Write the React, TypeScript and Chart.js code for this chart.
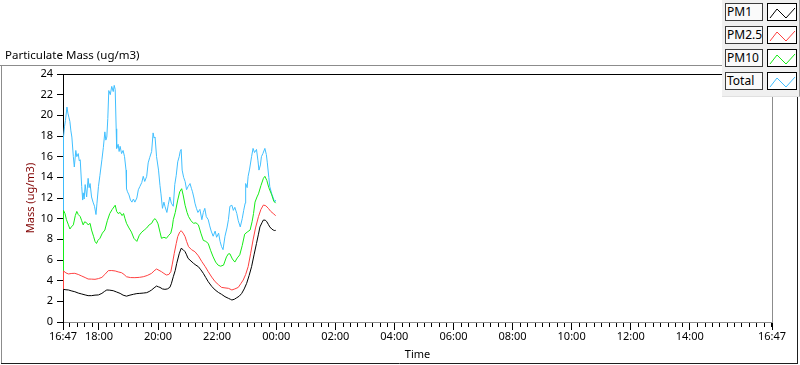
import React, { useEffect, useRef } from "react";
import { Chart, registerables } from "chart.js";

Chart.register(...registerables);

// ---------- data ----------
const chartTitle = "Particulate Mass (ug/m3)";
const xAxisTitle = "Time";
const yAxisTitle = "Mass (ug/m3)";
const startClock = "16:47";
const xTickLabels = ["16:47", "18:00", "20:00", "22:00", "00:00", "02:00", "04:00", "06:00", "08:00", "10:00", "12:00", "14:00", "16:47"];
const yMin = 0;
const yMax = 24;
const yStep = 2;

const seriesNames = ["PM1", "PM2.5", "PM10", "Total"];
const seriesColors = ["#000000", "#ff4040", "#14ec14", "#40bfff"];

// minutes since 16:47
const pm1Min = [0, 1, 6, 11, 18, 24, 31, 38, 45, 51, 58, 65, 72, 79, 84, 89, 95, 102, 109, 116, 122, 129, 136, 143, 150, 156, 163, 170, 175, 180, 185, 190, 194, 197, 202, 207, 212, 217, 220, 224, 228, 231, 236, 240, 244, 248, 251, 254, 260, 265, 270, 275, 280, 285, 290, 295, 302, 309, 316, 322, 329, 336, 340, 343, 348, 353, 358, 363, 368, 373, 378, 383, 388, 393, 397, 400, 404, 407, 411, 414, 417, 420, 424, 427, 430, 432];
const pm1 = [0, 3.16, 3.12, 3.1, 3.0, 2.93, 2.8, 2.71, 2.62, 2.55, 2.55, 2.6, 2.62, 2.77, 2.95, 3.1, 3.08, 3.03, 2.9, 2.77, 2.6, 2.5, 2.6, 2.68, 2.75, 2.77, 2.8, 2.84, 2.95, 3.1, 3.3, 3.48, 3.4, 3.35, 3.2, 3.16, 3.2, 3.35, 3.7, 4.38, 5.0, 5.68, 6.6, 7.13, 7.0, 6.8, 6.5, 6.16, 5.9, 5.68, 5.5, 5.35, 5.05, 4.71, 4.3, 3.9, 3.45, 3.1, 2.85, 2.68, 2.45, 2.29, 2.2, 2.13, 2.2, 2.35, 2.5, 2.77, 3.2, 3.74, 4.5, 5.35, 6.5, 7.6, 8.5, 9.2, 9.6, 9.87, 9.85, 9.7, 9.45, 9.2, 9.0, 8.9, 8.85, 8.87];

const pm25Min = [0, 1, 6, 11, 18, 24, 31, 38, 45, 51, 58, 65, 72, 79, 85, 92, 99, 106, 112, 119, 124, 129, 137, 146, 155, 163, 171, 180, 185, 190, 195, 200, 205, 210, 215, 219, 222, 226, 230, 233, 237, 240, 244, 248, 251, 255, 261, 268, 275, 282, 289, 295, 302, 309, 316, 322, 329, 336, 343, 349, 356, 361, 366, 371, 376, 381, 386, 391, 397, 402, 407, 412, 417, 422, 427, 432];
const pm25 = [0, 4.94, 4.75, 4.65, 4.7, 4.71, 4.6, 4.45, 4.3, 4.16, 4.15, 4.13, 4.2, 4.32, 4.6, 4.97, 4.98, 4.94, 4.85, 4.77, 4.6, 4.38, 4.3, 4.29, 4.32, 4.38, 4.5, 4.71, 4.95, 5.13, 5.0, 4.87, 4.7, 4.55, 4.6, 4.87, 5.6, 6.65, 7.6, 8.26, 8.7, 8.84, 8.6, 8.26, 7.8, 7.29, 7.0, 6.8, 6.4, 5.84, 5.35, 4.87, 4.35, 3.9, 3.6, 3.35, 3.3, 3.26, 3.1, 3.2, 3.35, 3.7, 4.06, 4.6, 5.35, 6.6, 7.94, 9.1, 10.19, 10.9, 11.32, 11.25, 11.0, 10.7, 10.5, 10.29];

const pm10Min = [0, 1, 4, 7, 11, 14, 17, 21, 25, 28, 31, 35, 38, 41, 44, 48, 51, 55, 58, 62, 65, 68, 71, 75, 80, 85, 90, 95, 100, 106, 109, 112, 116, 120, 123, 126, 129, 134, 139, 144, 150, 155, 160, 165, 170, 175, 180, 184, 187, 190, 193, 197, 200, 205, 210, 215, 219, 222, 224, 228, 233, 237, 241, 244, 248, 252, 255, 260, 265, 270, 275, 280, 285, 290, 295, 300, 305, 310, 315, 320, 326, 329, 332, 336, 339, 344, 349, 354, 359, 364, 369, 374, 380, 384, 387, 390, 394, 397, 402, 407, 410, 414, 418, 424, 428, 432];
const pm10 = [0, 10.8, 10.5, 9.9, 9.4, 9.0, 9.2, 9.4, 10.3, 10.7, 10.4, 10.2, 9.8, 9.4, 9.7, 9.6, 9.4, 9.55, 8.9, 8.3, 7.8, 7.6, 7.9, 8.1, 8.6, 8.9, 9.8, 10.5, 10.9, 11.3, 10.7, 10.5, 10.6, 10.3, 10.5, 10.0, 9.55, 9.1, 8.7, 8.1, 7.8, 8.4, 8.7, 8.9, 9.1, 9.4, 9.55, 9.9, 10.0, 9.8, 9.5, 8.7, 8.1, 8.2, 8.1, 8.4, 8.6, 9.2, 9.9, 10.6, 11.8, 12.6, 12.9, 12.3, 11.3, 10.6, 10.2, 9.8, 9.55, 9.6, 9.4, 8.6, 7.9, 7.8, 7.6, 6.9, 6.3, 5.8, 5.5, 5.4, 5.5, 5.9, 6.3, 6.6, 6.6, 6.1, 5.8, 6.2, 6.5, 7.4, 8.5, 8.7, 8.9, 9.7, 10.5, 11.6, 12.1, 12.4, 13.2, 13.9, 14.1, 13.7, 13.0, 12.3, 11.7, 11.5];

const totalMin = [0, 1, 3, 5, 8, 10, 12, 14, 16, 18, 21, 23, 26, 28, 31, 33, 35, 38, 40, 41, 43, 45, 48, 51, 53, 55, 58, 61, 64, 67, 69, 72, 75, 79, 82, 85, 87, 89, 91, 93, 96, 99, 102, 104, 106, 108, 109, 112, 114, 116, 119, 122, 125, 128, 129, 131, 134, 137, 140, 143, 146, 150, 153, 156, 160, 163, 166, 170, 173, 176, 180, 183, 185, 187, 190, 194, 197, 199, 202, 205, 207, 211, 214, 217, 220, 224, 227, 230, 233, 236, 238, 240, 242, 245, 248, 251, 254, 258, 261, 263, 266, 268, 271, 274, 278, 282, 285, 288, 291, 295, 298, 301, 305, 309, 312, 316, 319, 322, 325, 329, 333, 336, 339, 343, 346, 349, 353, 356, 360, 364, 367, 370, 371, 374, 376, 379, 383, 386, 389, 393, 396, 398, 401, 403, 406, 410, 413, 415, 418, 420, 424, 427, 430, 432];
const total = [0, 17.9, 18.9, 19.5, 20.8, 20.2, 19.8, 19.4, 18.5, 17.9, 16.0, 15.0, 16.6, 16.0, 16.3, 15.6, 15.7, 13.1, 11.8, 12.5, 11.9, 13.3, 12.1, 13.9, 13.0, 13.4, 12.1, 11.6, 11.2, 10.4, 11.5, 13.1, 14.2, 15.7, 16.9, 18.4, 17.6, 17.9, 19.7, 22.4, 22.0, 22.8, 22.3, 22.9, 22.5, 18.7, 16.8, 17.2, 16.5, 17.0, 16.3, 16.6, 16.0, 14.7, 12.9, 12.6, 12.3, 11.8, 11.6, 11.9, 11.6, 12.0, 12.8, 13.1, 13.5, 14.1, 13.6, 14.1, 15.4, 15.9, 16.5, 18.3, 17.8, 17.9, 16.0, 14.7, 13.2, 12.4, 11.0, 11.6, 11.2, 10.6, 11.4, 12.1, 11.5, 11.2, 13.3, 14.2, 15.5, 16.0, 16.5, 16.7, 14.7, 14.0, 13.6, 12.8, 13.1, 13.4, 12.9, 12.6, 12.0, 11.5, 11.0, 10.6, 10.9, 9.9, 10.6, 11.0, 10.2, 9.9, 9.3, 8.8, 8.3, 8.8, 8.2, 8.6, 7.8, 7.3, 7.0, 8.3, 9.1, 9.9, 11.2, 11.3, 10.8, 11.1, 10.5, 9.8, 9.2, 10.0, 10.8, 11.5, 13.4, 13.0, 14.1, 14.8, 16.0, 16.8, 16.4, 16.7, 15.6, 14.7, 15.2, 16.0, 16.3, 16.8, 16.2, 15.4, 14.0, 13.1, 12.4, 12.0, 11.6, 11.8];

// ---------- helpers ----------
const FONT = "'Noto Sans', 'Open Sans', sans-serif";

function clockToMin(s: string): number {
  const [h, m] = s.split(":").map(Number);
  return h * 60 + m;
}
const startMin = clockToMin(startClock);
const xTickValues = xTickLabels.map((l, i) =>
  i === xTickLabels.length - 1 ? 1440 : (clockToMin(l) - startMin + 1440) % 1440
);
const minorTickValues: number[] = [];
for (let m = (15 - (startMin % 15)) % 15; m < 1440; m += 15) {
  if (m > 0 && !xTickValues.includes(m)) minorTickValues.push(m);
}

const seriesMins = [pm1Min, pm25Min, pm10Min, totalMin];
const seriesVals = [pm1, pm25, pm10, total];

const framePlugin = {
  id: "lvFrame",
  beforeDraw(chart: any) {
    const { ctx, width, height } = chart;
    ctx.save();
    ctx.lineWidth = 1;
    ctx.strokeStyle = "#8c8c8c";
    ctx.beginPath();
    ctx.moveTo(0, 65.5);
    ctx.lineTo(width, 65.5);
    ctx.moveTo(1.5, 65);
    ctx.lineTo(1.5, height - 1);
    ctx.stroke();
    ctx.strokeStyle = "#1e1e1e";
    ctx.beginPath();
    ctx.moveTo(1, height - 1.5);
    ctx.lineTo(width - 2, height - 1.5);
    ctx.moveTo(width - 2.5, 65);
    ctx.lineTo(width - 2.5, height - 1);
    ctx.stroke();
    ctx.restore();
  },
  afterDraw(chart: any) {
    const { ctx, chartArea: ca, scales } = chart;
    const xs = scales.x;
    ctx.save();
    ctx.lineWidth = 1;
    ctx.strokeStyle = "#000";
    ctx.beginPath();
    ctx.moveTo(ca.left, ca.top + 0.5);
    ctx.lineTo(ca.right + 1, ca.top + 0.5);
    ctx.stroke();
    ctx.strokeStyle = "#8c8c8c";
    ctx.beginPath();
    ctx.moveTo(ca.right + 0.5, ca.top + 1);
    ctx.lineTo(ca.right + 0.5, ca.bottom);
    ctx.stroke();
    ctx.strokeStyle = "#000";
    ctx.beginPath();
    for (const v of minorTickValues) {
      const px = Math.round(xs.getPixelForValue(v)) + 0.5;
      ctx.moveTo(px, ca.bottom + 1);
      ctx.lineTo(px, ca.bottom + 5);
    }
    ctx.stroke();
    ctx.restore();
  },
};

export default function App() {
  const ref = useRef<HTMLCanvasElement | null>(null);

  useEffect(() => {
    if (!ref.current) return;
    const datasets = seriesNames.map((name, i) => ({
      label: name,
      data: seriesMins[i].map((m, j) => ({ x: m, y: seriesVals[i][j] })),
      borderColor: seriesColors[i],
      backgroundColor: seriesColors[i],
      borderWidth: 1,
      pointRadius: 0,
      tension: 0,
      fill: false,
    }));
    const chart = new Chart(ref.current, {
      type: "line",
      data: { datasets },
      plugins: [framePlugin],
      options: {
        animation: false,
        responsive: false,
        events: [],
        layout: { padding: { left: 0, right: 28, top: 74, bottom: 0 } },
        plugins: { legend: { display: false }, tooltip: { enabled: false }, title: { display: false } },
        scales: {
          x: {
            type: "linear",
            min: 0,
            max: 1440,
            afterFit: (s: any) => {
              s.height = 43;
            },
            afterBuildTicks: (s: any) => {
              s.ticks = xTickValues.map((v) => ({ value: v }));
            },
            ticks: {
              autoSkip: false,
              maxRotation: 0,
              minRotation: 0,
              padding: 0,
              color: "#000",
              font: { family: FONT, size: 11 },
              callback: (_v: any, i: number) => xTickLabels[i],
            },
            grid: { drawOnChartArea: false, tickLength: 8, tickColor: "#000", color: "#000" },
            border: { color: "#8c8c8c" },
            title: {
              display: true,
              text: xAxisTitle,
              color: "#000",
              font: { family: FONT, size: 11 },
              padding: { top: 0, bottom: 4 },
            },
          },
          y: {
            min: yMin,
            max: yMax,
            afterFit: (s: any) => {
              s.width = 63;
            },
            ticks: {
              stepSize: yStep,
              padding: 4,
              color: "#000",
              font: { family: FONT, size: 11 },
            },
            grid: { drawOnChartArea: false, tickLength: 6, tickColor: "#000", color: "#000" },
            border: { color: "#000" },
            title: {
              display: true,
              text: yAxisTitle,
              color: "#800000",
              font: { family: FONT, size: 11 },
              padding: { top: 24, bottom: 0 },
            },
          },
        },
      },
    });
    return () => chart.destroy();
  }, []);

  return (
    <div style={{ position: "absolute", left: 0, top: 0, width: 800, height: 365, background: "#fff", overflow: "hidden" }}>
      <canvas ref={ref} width={800} height={365} style={{ position: "absolute", left: 0, top: 0 }} />
      <div
        style={{
          position: "absolute",
          left: 5,
          top: 47,
          font: `11.5px ${FONT}`,
          lineHeight: "16px",
          color: "#000",
          whiteSpace: "nowrap",
        }}
      >
        {chartTitle}
      </div>
      <div
        style={{
          position: "absolute",
          left: 722,
          top: 0,
          width: 77,
          height: 96,
          background: "#f0f0f0",
          borderRight: "1px solid #a0a0a0",
          borderBottom: "1px solid #e0e0e0",
        }}
      >
        {seriesNames.map((name, i) => (
          <React.Fragment key={name}>
            <div
              style={{
                position: "absolute",
                left: 3,
                top: 3 + 23 * i,
                width: 35,
                height: 16,
                border: "1px solid #3c3c3c",
                background: "#fafafa",
                font: `12px ${FONT}`,
                lineHeight: "16px",
                paddingLeft: 1,
                color: "#000",
                whiteSpace: "nowrap",
                overflow: "hidden",
              }}
            >
              {name}
            </div>
            <div
              style={{
                position: "absolute",
                left: 45,
                top: 3 + 23 * i,
                width: 28,
                height: 16,
                border: "1px solid #000",
                background: "#fff",
              }}
            >
              <svg width={28} height={16} style={{ display: "block" }}>
                <polyline points="2,14 9,5 18,14 27,4" fill="none" stroke={seriesColors[i]} strokeWidth={1} />
              </svg>
            </div>
          </React.Fragment>
        ))}
      </div>
    </div>
  );
}
